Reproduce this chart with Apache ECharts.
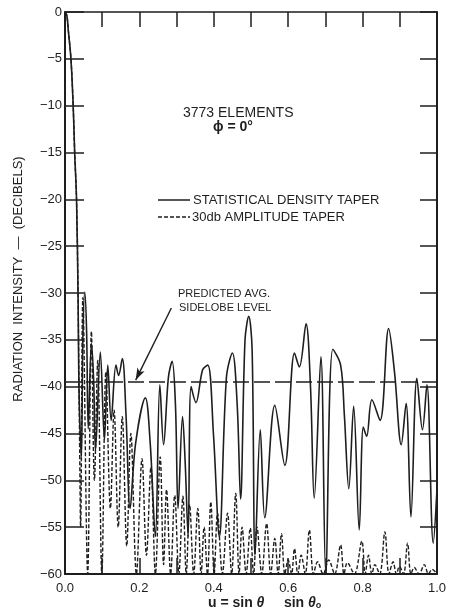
<!DOCTYPE html>
<html>
<head>
<meta charset="utf-8">
<script src="https://cdn.jsdelivr.net/npm/echarts@6/dist/echarts.min.js"></script>
<style>
  html, body { margin: 0; padding: 0; background: #fff; }
  #chart { width: 449px; height: 614px; }
</style>
</head>
<body>
<div id="chart"></div>
<script>
// Radiation pattern of a 3773-element array, phi = 0 deg cut.
// Each entry is [u, intensity in dB].
const densityTaper = [
  [0.000, 0], [0.005, -0.4], [0.009, -2.0], [0.016, -5], [0.022, -10], [0.026, -15],
  [0.031, -20], [0.035, -30], [0.038, -41], [0.044, -47.5], [0.048, -35], [0.053, -29.9],
  [0.058, -34], [0.0625, -44.5], [0.071, -35.4], [0.077, -39.3], [0.082, -46.8],
  [0.095, -36.3], [0.106, -45.7], [0.115, -37.7], [0.124, -43.6], [0.137, -37.7],
  [0.144, -38.8], [0.154, -37.0], [0.164, -43], [0.175, -53], [0.190, -46],
  [0.216, -41.2], [0.229, -46], [0.243, -56], [0.255, -39.8], [0.265, -46.2],
  [0.278, -39], [0.288, -37.3], [0.297, -42], [0.304, -53], [0.316, -43.2],
  [0.323, -48], [0.331, -56], [0.339, -40], [0.352, -41.7], [0.370, -38.2],
  [0.384, -37.7], [0.399, -45], [0.415, -56], [0.434, -39], [0.450, -36.4],
  [0.463, -42], [0.472, -52], [0.484, -35], [0.494, -32.5], [0.503, -36],
  [0.511, -58], [0.525, -44.6], [0.537, -54], [0.564, -42.0], [0.591, -48.4],
  [0.617, -36.4], [0.630, -37.9], [0.648, -33.3], [0.660, -40], [0.670, -51.9],
  [0.688, -36.8], [0.701, -60], [0.720, -36.0], [0.741, -37.7], [0.751, -43],
  [0.763, -50.9], [0.776, -42.1], [0.791, -55.3], [0.802, -44.3], [0.811, -45.3],
  [0.825, -41.4], [0.847, -43.6], [0.870, -33.8], [0.886, -38.5], [0.904, -46.2],
  [0.917, -41.8], [0.930, -53.9], [0.946, -39.1], [0.961, -44.6], [0.973, -39.8],
  [0.990, -56.7], [1.000, -51]
];

const amplitudeTaper = [
  [0.000, 0], [0.005, -0.4], [0.009, -2.0], [0.016, -5], [0.022, -10], [0.026, -15],
  [0.031, -20], [0.035, -30], [0.039, -45], [0.042, -55], [0.048, -30.5],
  [0.061, -60], [0.071, -34.1], [0.079, -50], [0.088, -37.2], [0.099, -60],
  [0.110, -38.4], [0.122, -53], [0.132, -42.5], [0.143, -55], [0.154, -43.2],
  [0.166, -57], [0.177, -45], [0.192, -60], [0.207, -47.7], [0.219, -58],
  [0.231, -48.6], [0.243, -60], [0.256, -47.5], [0.265, -59], [0.273, -51],
  [0.284, -60], [0.295, -51.6], [0.306, -60], [0.317, -51.7], [0.326, -60],
  [0.335, -52.6], [0.346, -60], [0.357, -53], [0.366, -60], [0.374, -55],
  [0.383, -60], [0.392, -52.3], [0.401, -60], [0.410, -53.5], [0.423, -60],
  [0.437, -53.5], [0.448, -60], [0.459, -51.4], [0.468, -60], [0.476, -55],
  [0.487, -60], [0.498, -55.1], [0.507, -60], [0.516, -55], [0.529, -60],
  [0.542, -54.6], [0.553, -60], [0.564, -56.2], [0.573, -60], [0.582, -55.7],
  [0.591, -60], [0.600, -58.5], [0.609, -60], [0.617, -57.3], [0.626, -60],
  [0.635, -58], [0.646, -60], [0.657, -55.3], [0.668, -60], [0.679, -58.7],
  [0.694, -60], [0.709, -58.5], [0.725, -60], [0.741, -56.9], [0.750, -60],
  [0.759, -58.8], [0.778, -60], [0.798, -56.5], [0.807, -60], [0.816, -58],
  [0.825, -60], [0.833, -59], [0.846, -60], [0.860, -55.5], [0.871, -60],
  [0.882, -58.7], [0.891, -60], [0.899, -59.2], [0.910, -60], [0.921, -56.7],
  [0.930, -60], [0.939, -59.3], [0.952, -60], [0.966, -59], [0.977, -60],
  [0.987, -59.5], [1.000, -60]
];

const predictedLevel = -39.5;
const arrowFrom = [0.286, -31.6];
const arrowTo = [0.190, -39.3];

const xTicks = { min: 0, max: 1, step: 0.1 };
const yTicks = { min: -60, max: 0, step: 5 };

const ink = '#1e1e1e';
const fontFamily = '"Liberation Sans", "DejaVu Sans", sans-serif';

const chart = echarts.init(document.getElementById('chart'), null, { renderer: 'canvas' });

function xAxisDef(position, showLabel, tickLen, lineWidth) {
  return {
    type: 'value', position: position,
    min: xTicks.min, max: xTicks.max, interval: xTicks.step,
    axisLine: { show: true, onZero: false, lineStyle: { color: ink, width: lineWidth } },
    axisTick: { show: true, inside: true, length: tickLen, lineStyle: { color: ink, width: 1.5 } },
    splitLine: { show: false },
    axisLabel: {
      show: showLabel, margin: 8, color: ink, fontSize: 13, fontFamily: fontFamily,
      formatter: function (v) {
        const k = Math.round(v * 10);
        return k % 2 === 0 ? (k / 10).toFixed(1) : '';
      }
    }
  };
}

function yAxisDef(position, showLabel, tickLen) {
  return {
    type: 'value', position: position,
    min: yTicks.min, max: yTicks.max, interval: yTicks.step,
    axisLine: { show: true, onZero: false, lineStyle: { color: ink, width: 2 } },
    axisTick: { show: true, inside: true, length: tickLen, lineStyle: { color: ink, width: 1.5 } },
    splitLine: { show: false },
    axisLabel: {
      show: showLabel, margin: 3, color: ink, fontSize: 13, fontFamily: fontFamily,
      formatter: function (v) { return v === 0 ? '0' : '\u2212' + Math.abs(v); }
    }
  };
}

const option = {
  animation: false,
  backgroundColor: '#ffffff',
  grid: { left: 65, right: 6, top: 12, bottom: 40, containLabel: false },
  xAxis: [xAxisDef('bottom', true, 16, 2), xAxisDef('top', false, 15, 1.5)],
  yAxis: [yAxisDef('left', true, 19), yAxisDef('right', false, 17)],
  series: [
    {
      name: 'STATISTICAL DENSITY TAPER', type: 'line',
      data: densityTaper, smooth: 0.35, showSymbol: false, clip: true,
      lineStyle: { color: ink, width: 1.6 }
    },
    {
      name: '30db AMPLITUDE TAPER', type: 'line',
      data: amplitudeTaper, smooth: 0.35, showSymbol: false, clip: true,
      lineStyle: { color: ink, width: 1.4, type: [4, 2] }
    },
    {
      name: 'PREDICTED AVG. SIDELOBE LEVEL', type: 'line',
      data: [[xTicks.min, predictedLevel], [xTicks.max, predictedLevel]],
      showSymbol: false, silent: true,
      lineStyle: { color: ink, width: 1.5, type: [16, 5] },
      markLine: {
        silent: true, symbol: ['none', 'arrow'], symbolSize: [6, 12],
        label: { show: false },
        lineStyle: { color: ink, width: 1.4, type: 'solid' },
        data: [[{ coord: arrowFrom }, { coord: arrowTo }]]
      }
    }
  ],
  graphic: [
    { type: 'text', left: 183, top: 106,
      style: { text: '3773 ELEMENTS', fill: ink, fontSize: 14, fontFamily: fontFamily } },
    { type: 'text', left: 213, top: 120,
      style: { text: '\u03D5 = 0\u00B0', fill: ink, fontSize: 14, fontWeight: 'bold', fontFamily: fontFamily } },

    { type: 'line', shape: { x1: 158, y1: 200, x2: 190, y2: 200 },
      style: { stroke: ink, lineWidth: 1.5 } },
    { type: 'text', left: 193, top: 194,
      style: { text: 'STATISTICAL DENSITY TAPER', fill: ink, fontSize: 13, fontFamily: fontFamily } },
    { type: 'line', shape: { x1: 158, y1: 217, x2: 190, y2: 217 },
      style: { stroke: ink, lineWidth: 1.5, lineDash: [4, 2] } },
    { type: 'text', left: 192, top: 211,
      style: { text: '30db AMPLITUDE TAPER', fill: ink, fontSize: 13, fontFamily: fontFamily } },

    { type: 'text', left: 178, top: 288,
      style: { text: 'PREDICTED AVG.', fill: ink, fontSize: 11, fontFamily: fontFamily } },
    { type: 'text', left: 179, top: 302,
      style: { text: 'SIDELOBE LEVEL', fill: ink, fontSize: 11, fontFamily: fontFamily } },

    { type: 'text', left: 208, top: 596,
      style: {
        text: '{a|u = sin }{t|\u03B8}{a|     sin }{t|\u03B8}{s|o}',
        rich: {
          a: { fill: ink, fontSize: 14, fontWeight: 'bold', fontFamily: fontFamily },
          t: { fill: ink, fontSize: 14, fontWeight: 'bold', fontStyle: 'italic', fontFamily: fontFamily },
          s: { fill: ink, fontSize: 9, fontWeight: 'bold', fontFamily: fontFamily, verticalAlign: 'bottom', padding: [6, 0, 0, 0] }
        }
      } },
    { type: 'text', x: 18, y: 279, rotation: Math.PI / 2,
      style: { text: 'RADIATION  INTENSITY  \u2014  (DECIBELS)', fill: ink, fontSize: 13,
               fontFamily: fontFamily, textAlign: 'center', textVerticalAlign: 'middle' } }
  ]
};

chart.setOption(option);
</script>
</body>
</html>
